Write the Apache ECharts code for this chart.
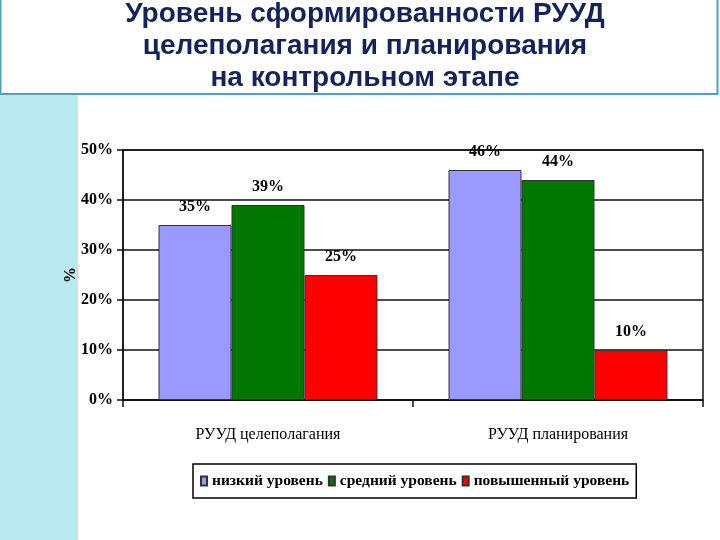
<!DOCTYPE html>
<html>
<head>
<meta charset="utf-8">
<script src="https://cdn.jsdelivr.net/npm/echarts@6/dist/echarts.min.js"></script>
<style>html,body{margin:0;padding:0;background:#fff;}#c{width:720px;height:540px;}</style>
</head>
<body>
<div id="c"></div>
<script>
var categories = ['РУУД целеполагания', 'РУУД планирования'];
var seriesNames = ['низкий уровень', 'средний уровень', 'повышенный уровень'];
var lowLevel = [35, 46];
var midLevel = [39, 44];
var highLevel = [25, 10];
var yTicks = [0, 10, 20, 30, 40, 50];

var serif = "'Liberation Serif', 'Times New Roman', serif";
var chart = echarts.init(document.getElementById('c'));
var colors = ['#9999ff', '#007800', '#ff0000'];
var values = [lowLevel, midLevel, highLevel];

var series = values.map(function (v, i) {
  return {
    name: seriesNames[i],
    type: 'bar',
    data: v,
    barGap: '0%',
    barCategoryGap: '24.5%',
    itemStyle: { color: colors[i], borderColor: '#333', borderWidth: 1 },
    label: {
      show: true, position: 'top', distance: 10,
      formatter: '{c}%', fontFamily: serif, fontWeight: 'bold', fontSize: 16, color: '#000'
    }
  };
});

chart.setOption({
  animation: false,
  backgroundColor: '#fff',
  graphic: [
    { type: 'rect', z: 0, shape: { x: 0, y: 95, width: 78, height: 445 }, style: { fill: '#b9e8ee' } },
    { type: 'rect', z: 0, shape: { x: 0.5, y: -2, width: 717, height: 96 }, style: { fill: '#fff', stroke: '#4aa3b8', lineWidth: 2 } }
  ],
  title: {
    text: 'Уровень сформированности РУУД\nцелеполагания и планирования\nна контрольном этапе',
    left: 360, top: -7, textAlign: 'center',
    textStyle: { fontFamily: "'Liberation Sans', Arial, sans-serif", fontWeight: 'bold', fontSize: 28, lineHeight: 32, color: '#14235c' }
  },
  grid: { left: 123, right: 17, top: 150, bottom: 140, show: true, borderColor: '#111', borderWidth: 1.5, backgroundColor: 'transparent' },
  legend: {
    data: seriesNames,
    top: 464, left: 193,
    padding: [9, 7],
    itemGap: 5, itemWidth: 6, itemHeight: 9,
    borderColor: '#000', borderWidth: 1.5,
    icon: 'rect',
    textStyle: { fontFamily: serif, fontWeight: 'bold', fontSize: 15.5, color: '#000' }
  },
  xAxis: {
    type: 'category', data: categories,
    axisLine: { lineStyle: { color: '#111', width: 1.5 } },
    axisTick: { show: true, length: 7, lineStyle: { color: '#111', width: 1.5 } },
    axisLabel: { fontFamily: serif, fontSize: 16, color: '#000', margin: 27 }
  },
  yAxis: {
    type: 'value', min: yTicks[0], max: yTicks[yTicks.length - 1], interval: 10,
    name: '%', nameLocation: 'middle', nameGap: 44, nameRotate: 90, nameMoveOverlap: false,
    nameTextStyle: { fontFamily: serif, fontWeight: 'bold', fontSize: 16, color: '#000' },
    axisLine: { show: true, lineStyle: { color: '#111', width: 1.5 } },
    axisTick: { show: true, inside: false, length: 6, lineStyle: { color: '#111', width: 1.5 } },
    axisLabel: { formatter: '{value}%', fontFamily: serif, fontWeight: 'bold', fontSize: 16, color: '#000', margin: 10 },
    splitLine: { show: true, lineStyle: { color: '#111', width: 1.5 } }
  },
  series: series
});
</script>
</body>
</html>
